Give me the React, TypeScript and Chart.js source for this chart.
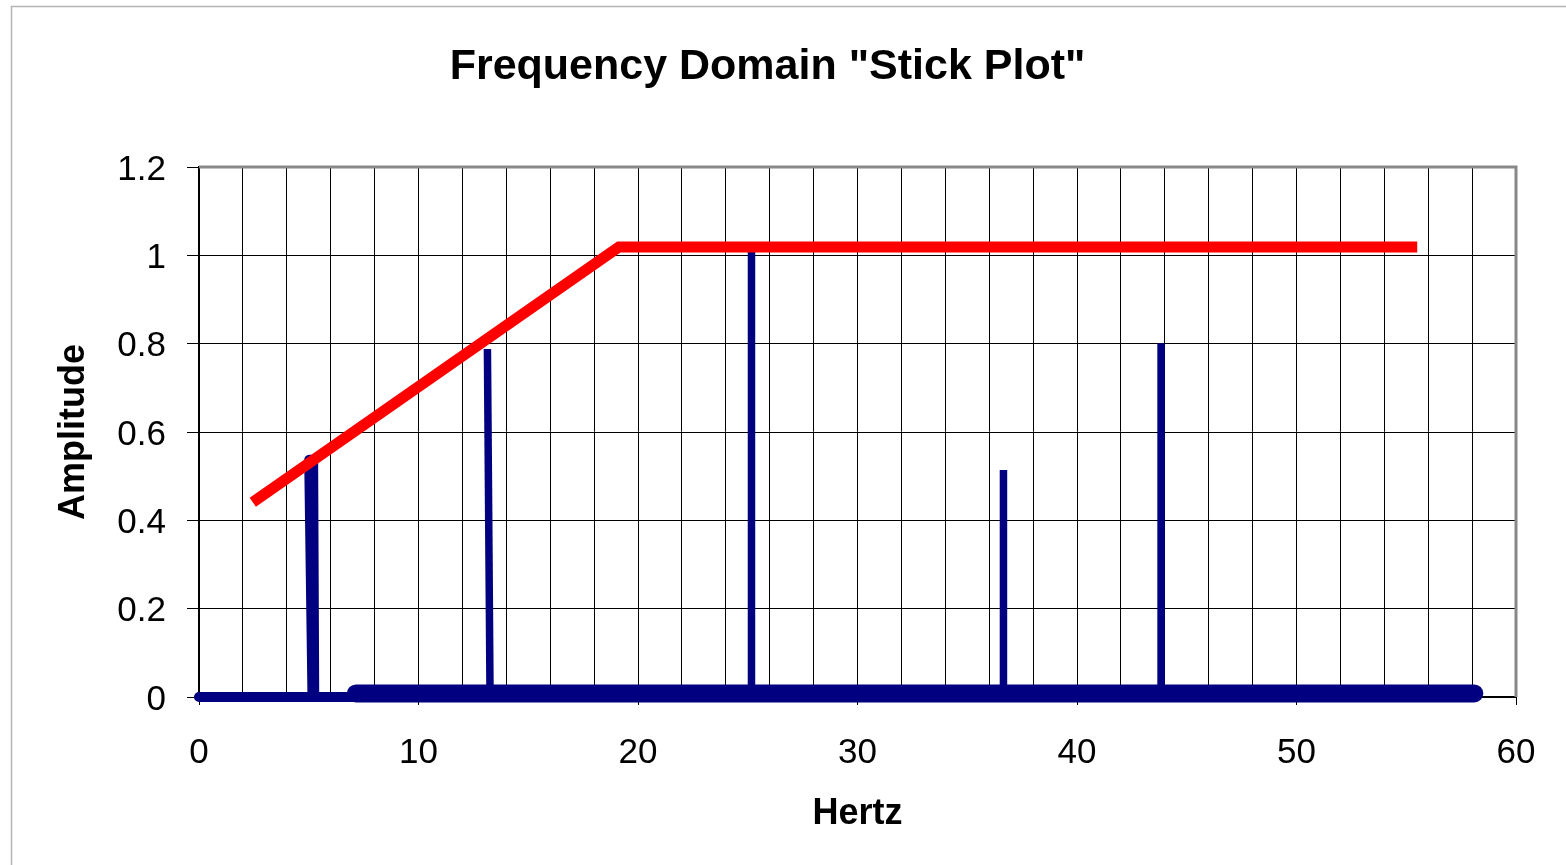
import React, { useEffect, useRef } from "react";
import { Chart, registerables } from "chart.js";

Chart.register(...registerables);

const TITLE = 'Frequency Domain "Stick Plot"';
const X_LABEL = "Hertz";
const Y_LABEL = "Amplitude";

// Red envelope line
const envelopeHz = [2.45, 19.13, 55.5];
const envelopeAmp = [0.441, 1.019, 1.019];

// Low-frequency part of the spectrum, including the peak near 5 Hz
const lowBandHz = [0, 5.17, 5.02, 5.2, 5.25, 7.2];
const lowBandAmp = [0, 0, 0.537, 0.537, 0, 0];

// Dense sampled floor (thick marker band)
const floorHz = [7.15, 58.1];
const floorAmp = [0.008, 0.008];

// Sticks
const stickBaseHz = [13.26, 25.17, 36.65, 43.83];
const stickTopHz = [13.14, 25.17, 36.65, 43.83];
const stickAmp = [0.788, 1.012, 0.514, 0.801];

const FONT = "'Liberation Sans', Arial, Helvetica, sans-serif";
const NAVY = "#000080";
const RED = "#FF0000";

const toPoints = (xs: number[], ys: number[]) => xs.map((x, i) => ({ x, y: ys[i] }));

const framePlugin = {
  id: "framePlugin",
  beforeDraw(chart: any) {
    const ctx = chart.ctx;
    ctx.save();
    ctx.fillStyle = "#ffffff";
    ctx.fillRect(0, 0, chart.width, chart.height);
    ctx.restore();
  },
  beforeDatasetsDraw(chart: any) {
    const { left, top, right, bottom } = chart.chartArea;
    const ctx = chart.ctx;
    ctx.save();
    ctx.strokeStyle = "#888888";
    ctx.lineWidth = 3;
    ctx.beginPath();
    ctx.moveTo(left, top);
    ctx.lineTo(right, top);
    ctx.lineTo(right, bottom);
    ctx.stroke();
    ctx.restore();
  },
  afterDraw(chart: any) {
    const ctx = chart.ctx;
    ctx.save();
    ctx.strokeStyle = "#b4b4b4";
    ctx.lineWidth = 1.5;
    ctx.beginPath();
    ctx.moveTo(11.5, chart.height + 2);
    ctx.lineTo(11.5, 6.5);
    ctx.lineTo(chart.width + 2, 6.5);
    ctx.stroke();
    ctx.restore();
  },
};

export default function App() {
  const canvasRef = useRef<HTMLCanvasElement | null>(null);

  useEffect(() => {
    if (!canvasRef.current) return;

    const stickSets = stickAmp.map((amp, i) => ({
      label: "stick" + i,
      data: [
        { x: stickBaseHz[i], y: 0 },
        { x: stickTopHz[i], y: amp },
      ],
      borderColor: NAVY,
      backgroundColor: NAVY,
      borderWidth: 7.5,
      borderCapStyle: "butt",
      borderJoinStyle: "miter",
      showLine: true,
      pointRadius: 0,
      clip: false,
    }));

    const chart = new Chart(canvasRef.current, {
      type: "scatter",
      data: {
        datasets: [
          {
            label: "envelope",
            data: toPoints(envelopeHz, envelopeAmp),
            borderColor: RED,
            backgroundColor: RED,
            borderWidth: 11,
            borderCapStyle: "butt",
            borderJoinStyle: "miter",
            showLine: true,
            pointRadius: 0,
            clip: false,
          } as any,
          ...(stickSets as any[]),
          {
            label: "lowband",
            data: toPoints(lowBandHz, lowBandAmp),
            borderColor: NAVY,
            backgroundColor: NAVY,
            borderWidth: 10,
            borderCapStyle: "round",
            borderJoinStyle: "round",
            showLine: true,
            pointRadius: 0,
            clip: false,
          } as any,
          {
            label: "floor",
            data: toPoints(floorHz, floorAmp),
            borderColor: NAVY,
            backgroundColor: NAVY,
            borderWidth: 18,
            borderCapStyle: "round",
            borderJoinStyle: "round",
            showLine: true,
            pointRadius: 0,
            clip: false,
          } as any,
        ],
      },
      options: {
        responsive: false,
        animation: false,
        layout: { padding: { left: 19, right: 50, top: 0, bottom: 0 } },
        plugins: {
          legend: { display: false },
          tooltip: { enabled: false },
          title: {
            display: true,
            text: TITLE,
            color: "#000",
            font: { family: FONT, size: 43, weight: "bold" },
            padding: { top: 41, bottom: 74.4 },
          },
        },
        scales: {
          x: {
            type: "linear",
            min: 0,
            max: 60,
            afterFit: (s: any) => {
              s.height = 168;
            },
            ticks: {
              stepSize: 2,
              autoSkip: false,
              maxRotation: 0,
              padding: 27,
              color: "#000",
              font: { family: FONT, size: 35 },
              callback: (v: any) => (Number(v) % 10 === 0 ? String(v) : ""),
            },
            grid: {
              color: "#000",
              lineWidth: 1,
              tickLength: 8,
              tickColor: (ctx: any) =>
                ctx.tick && ctx.tick.value % 10 === 0 ? "#000" : "rgba(0,0,0,0)",
            },
            border: { color: "#000", width: 2 },
            title: {
              display: true,
              text: X_LABEL,
              color: "#000",
              font: { family: FONT, size: 36, weight: "bold" },
              padding: { top: 0, bottom: 29 },
            },
          },
          y: {
            type: "linear",
            min: 0,
            max: 1.2,
            afterFit: (s: any) => {
              s.width = 180;
            },
            ticks: {
              stepSize: 0.2,
              padding: 21,
              labelOffset: 3,
              color: "#000",
              font: { family: FONT, size: 35 },
              callback: (v: any) => String(Number(Number(v).toFixed(1))),
            },
            grid: { color: "#000", lineWidth: 1, tickLength: 12 },
            border: { color: "#000", width: 2 },
            title: {
              display: true,
              text: Y_LABEL,
              color: "#000",
              font: { family: FONT, size: 36, weight: "bold" },
              padding: { top: 33, bottom: 0 },
            },
          },
        },
      } as any,
      plugins: [framePlugin],
    });

    return () => chart.destroy();
  }, []);

  return (
    <div style={{ position: "fixed", left: 0, top: 0, width: 1566, height: 865, background: "#fff" }}>
      <canvas ref={canvasRef} width={1566} height={865} style={{ display: "block" }} />
    </div>
  );
}
